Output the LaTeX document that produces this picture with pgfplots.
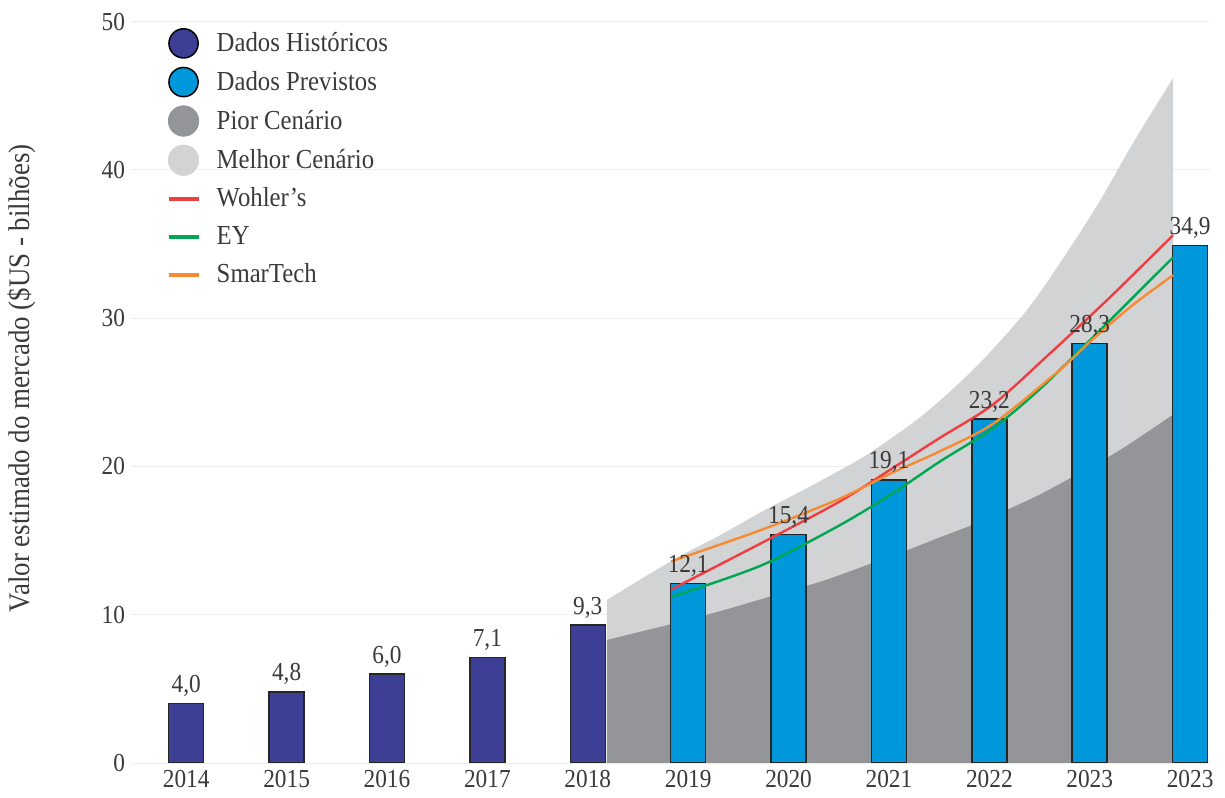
\documentclass[border=0pt]{standalone}
\usepackage{pgfplots}
\pgfplotsset{compat=1.18}
\usepgfplotslibrary{fillbetween}
\usepackage{fontspec}
\setmainfont{Liberation Serif}[FakeStretch=0.9]
\definecolor{hist}{HTML}{3D3F94}
\definecolor{fore}{HTML}{0098DA}
\definecolor{worst}{HTML}{939598}
\definecolor{best}{HTML}{D1D3D4}
\definecolor{cred}{HTML}{EF3E42}
\definecolor{cgreen}{HTML}{00A651}
\definecolor{corange}{HTML}{F68B33}
\definecolor{txt}{HTML}{3A3A3A}
\begin{document}
\begin{tikzpicture}
\begin{axis}[
  name=ax,
  scale only axis,
  width=539.1bp, height=370.65bp,
  xmin=-0.54, xmax=10.2,
  ymin=0, ymax=50,
  axis line style={draw=none},
  tick style={draw=none},
  major tick length=0pt,
  ytick={0,10,20,30,40,50},
  xtick={0,1,2,3,4,5,6,7,8,9,10},
  xticklabels={2014,2015,2016,2017,2018,2019,2020,2021,2022,2023,2023},
  ymajorgrids,
  grid style={draw=black!7, line width=0.5bp},
  /pgf/number format/assume math mode=true,
  ticklabel style={font=\fontsize{13}{15}\selectfont, text=txt},
  ylabel={Valor estimado do mercado (\$US - bilhões)},
  ylabel style={at={(axis description cs:-0.102,0.519)}, anchor=center, font=\fontsize{15}{17}\selectfont, text=txt},
  legend style={draw=none, fill=none, inner sep=0pt, at={(axis description cs:0.0315,0.992)}, anchor=north west,
    font=\fontsize{13.8}{16}\selectfont, text=txt, row sep=4bp, column sep=6bp},
  legend cell align=left,
]
% legend entries
\addlegendimage{legend image code/.code={\path[draw=none,fill=none] (0,-7.5bp) rectangle (15bp,7.5bp); \draw[fill=hist, draw=black, line width=0.75bp] (7.5bp,0) circle (7.3bp);}}
\addlegendentry{Dados Históricos}
\addlegendimage{legend image code/.code={\path[draw=none,fill=none] (0,-7.5bp) rectangle (15bp,7.5bp); \draw[fill=fore, draw=black, line width=0.75bp] (7.5bp,0) circle (7.3bp);}}
\addlegendentry{Dados Previstos}
\addlegendimage{legend image code/.code={\path[draw=none,fill=none] (0,-7.5bp) rectangle (15bp,7.5bp); \fill[worst] (7.5bp,0) circle (7.6bp);}}
\addlegendentry{Pior Cenário}
\addlegendimage{legend image code/.code={\path[draw=none,fill=none] (0,-7.5bp) rectangle (15bp,7.5bp); \fill[best] (7.5bp,0) circle (7.6bp);}}
\addlegendentry{Melhor Cenário}
\addlegendimage{legend image code/.code={\path[draw=none,fill=none] (0,-7.5bp) rectangle (15bp,7.5bp); \draw[cred, line width=2.2bp] (0,0) -- (15bp,0);}}
\addlegendentry{Wohler’s}
\addlegendimage{legend image code/.code={\path[draw=none,fill=none] (0,-7.5bp) rectangle (15bp,7.5bp); \draw[cgreen, line width=2.2bp] (0,0) -- (15bp,0);}}
\addlegendentry{EY}
\addlegendimage{legend image code/.code={\path[draw=none,fill=none] (0,-7.5bp) rectangle (15bp,7.5bp); \draw[corange, line width=2.2bp] (0,0) -- (15bp,0);}}
\addlegendentry{SmarTech}

% scenario boundaries
\addplot[name path=bestcurve, draw=none, smooth, forget plot] coordinates {
(4.19,11.0)(4.85,13.7)(5.3,15.3)(5.72,16.9)(6.2,18.6)(6.71,20.5)(7.0,21.8)(7.38,23.7)(7.88,26.8)(8.38,30.6)(8.77,34.4)(9.1,37.9)(9.43,41.8)(9.83,46.2)};
\addplot[name path=worstcurve, draw=none, smooth, forget plot] coordinates {
(4.19,8.3)(4.85,9.4)(5.35,10.3)(5.85,11.3)(6.35,12.3)(6.84,13.5)(7.2,14.4)(7.5,15.2)(7.88,16.2)(8.44,17.9)(8.83,19.3)(9.3,21.1)(9.83,23.5)};
\addplot[name path=basecurve, draw=none, forget plot] coordinates {(4.19,0)(9.83,0)};
\addplot[fill=best, draw=none, forget plot] fill between[of=bestcurve and basecurve];
\addplot[fill=worst, draw=none, forget plot] fill between[of=worstcurve and basecurve];

% bars
\addplot[ybar, bar width=17.5bp, bar shift=0pt, fill=hist, draw=black!85, line width=0.75bp, forget plot]
coordinates {(0,4.0)(1,4.8)(2,6.0)(3,7.1)(4,9.3)};
\addplot[ybar, bar width=17.5bp, bar shift=0pt, fill=fore, draw=black!85, line width=0.75bp, forget plot]
coordinates {(5,12.1)(6,15.4)(7,19.1)(8,23.2)(9,28.3)(10,34.9)};

% lines
\addplot[cred, line width=1.2bp, smooth, forget plot] coordinates {
(4.83,11.7)(5.72,14.8)(6.5,17.6)(7.04,19.9)(7.5,21.9)(8.04,24.2)(8.6,27.6)(9.2,31.4)(9.83,35.6)};
\addplot[cgreen, line width=1.2bp, smooth, forget plot] coordinates {
(4.83,11.2)(5.72,13.3)(6.5,16.0)(7.04,18.2)(7.5,20.3)(8.04,22.6)(8.5,25.2)(9.0,28.5)(9.43,31.4)(9.83,34.1)};
\addplot[corange, line width=1.2bp, smooth, forget plot] coordinates {
(4.83,13.6)(5.72,15.7)(6.5,17.8)(7.04,19.6)(7.5,21.0)(8.04,22.9)(8.7,26.5)(9.0,28.4)(9.43,30.9)(9.83,32.9)};

% value labels
\addplot[draw=none, mark=none, forget plot,
  nodes near coords={\pgfmathprintnumber[fixed,fixed zerofill,precision=1,use comma,assume math mode=true]{\pgfplotspointmeta}},
  every node near coord/.append style={anchor=south, font=\fontsize{13}{15}\selectfont, text=txt}]
coordinates {(0,4.0)(1,4.8)(2,6.0)(3,7.1)(4,9.3)(5,12.1)(6,15.4)(7,19.1)(8,23.2)(9,28.3)(10,34.9)};
\end{axis}
\pgfresetboundingbox
\path[use as bounding box] ([shift={(-66bp,-17.5bp)}]ax.south west) rectangle ([shift={(546.5bp,381.5bp)}]ax.south west);
\end{tikzpicture}
\end{document}
